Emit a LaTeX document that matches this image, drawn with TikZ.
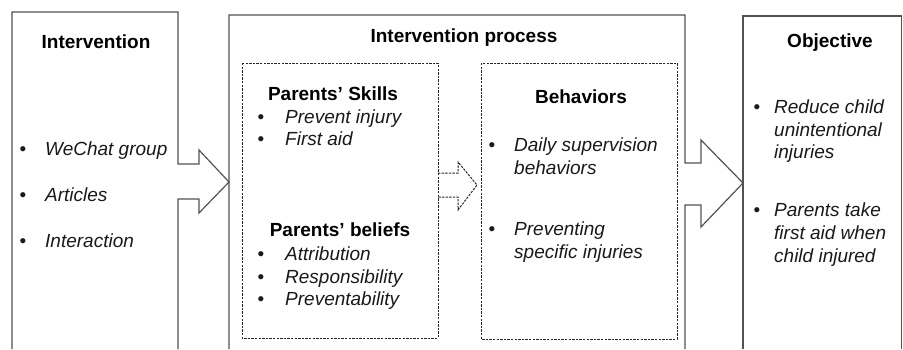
\documentclass[tikz,border=0pt]{standalone}
\usepackage{fontspec}
\setmainfont{Liberation Sans}
\begin{document}
\begin{tikzpicture}[x=1pt,y=-1pt,
  outline/.style={draw=black!68, line width=1.2pt, line join=miter},
  dashbox/.style={draw=black!85, line width=1pt, dash pattern=on 2.4pt off 1.2pt},
  title/.style={font=\fontsize{19}{22}\selectfont\bfseries, inner sep=0pt, anchor=base},
  item/.style={font=\fontsize{19}{22}\selectfont\itshape, text=black!90, inner sep=0pt, anchor=base west},
  bul/.style={font=\fontsize{19}{22}\selectfont, text=black!90, inner sep=0pt, anchor=base}]
\useasboundingbox (0,0) rectangle (903,349);
% outer boxes with block arrows
\draw[outline] (12,349) -- (12,12) -- (178,12) -- (178,164) -- (199,164) -- (199,150)
  -- (229,182) -- (199,213) -- (199,199) -- (178,199) -- (178,349);
\draw[outline] (229,349) -- (229,15) -- (685,15) -- (685,163) -- (701,163) -- (701,140)
  -- (743,183) -- (701,227) -- (701,205) -- (685,205) -- (685,349);
\draw[outline] (743,349) -- (743,16) -- (901.5,16) -- (901.5,349);
% inner dashed boxes
\draw[dashbox] (242,63) rectangle (438,338);
\draw[dashbox] (481,63) rectangle (677,339);
\draw[dashbox] (438,173) -- (458,173) -- (458,162) -- (477,185) -- (458,210) -- (458,197) -- (438,197);
% titles
\node[title] (tI) at (96,48) {Intervention};
\node[title] (tP) at (464,42) {Intervention process};
\node[title] (tS) at (333,100) {Parents’ Skills};
\node[title] (tB) at (340,236) {Parents’ beliefs};
\node[title] (tH) at (581,103) {Behaviors};
\node[title] (tO) at (830,47) {Objective};
% left column
\node[bul] (b1) at (23,155) {•}; \node[item] (i1) at (45,155) {WeChat group};
\node[bul] (b2) at (23,201) {•}; \node[item] (i2) at (45,201) {Articles};
\node[bul] (b3) at (23,247) {•}; \node[item] (i3) at (45,247) {Interaction};
% skills / beliefs
\node[bul] (b4) at (261,123) {•}; \node[item] (i4) at (285,123) {Prevent injury};
\node[bul] (b5) at (261,145) {•}; \node[item] (i5) at (285,145) {First aid};
\node[bul] (b6) at (261,260) {•}; \node[item] (i6) at (285,260) {Attribution};
\node[bul] (b7) at (261,283) {•}; \node[item] (i7) at (285,283) {Responsibility};
\node[bul] (b8) at (261,305) {•}; \node[item] (i8) at (285,305) {Preventability};
% behaviors
\node[bul] (b9) at (492,151) {•}; \node[item] (i9) at (514,151) {Daily supervision};
\node[item] (i9b) at (514,174) {behaviors};
\node[bul] (b10) at (492,235) {•}; \node[item] (i10) at (514,235) {Preventing};
\node[item] (i10b) at (514,258) {specific injuries};
% objective
\node[bul] (b11) at (757,113) {•}; \node[item] (i11) at (774,113) {Reduce child};
\node[item] (i11b) at (774,136) {unintentional};
\node[item] (i11c) at (774,158) {injuries};
\node[bul] (b12) at (757,216) {•}; \node[item] (i12) at (774,216) {Parents take};
\node[item] (i12b) at (774,239) {first aid when};
\node[item] (i12c) at (774,262) {child injured};
\end{tikzpicture}
\end{document}
